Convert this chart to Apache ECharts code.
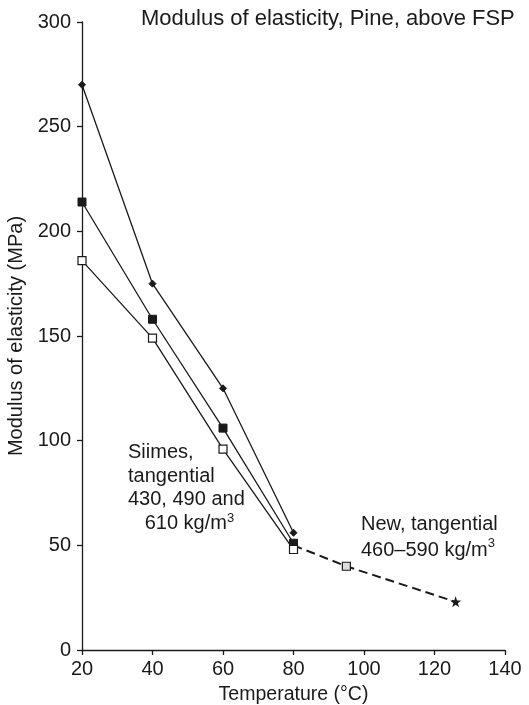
<!DOCTYPE html>
<html>
<head>
<meta charset="utf-8">
<script src="https://cdn.jsdelivr.net/npm/echarts@6/dist/echarts.min.js"></script>
<style>
  html, body { margin: 0; padding: 0; background: #fff; }
  #chart { width: 529px; height: 705px; }
</style>
</head>
<body>
<div id="chart"></div>
<script>
// temperatures (°C) for the Siimes measurements
const siimesTemps = [20, 40, 60, 80]
// three densities: 430, 490 and 610 kg/m3
const siimesHigh = [270, 175, 125, 56]   // diamond
const siimesMid = [214, 158, 106, 51]    // filled square
const siimesLow = [186, 149, 96, 48]     // open square
// new tangential data, 460–590 kg/m3 (dashed)
const newTemps = [80, 95, 126]
const newValues = [50, 40, 23]

const xTicks = [20, 40, 60, 80, 100, 120, 140]
const yTicks = [0, 50, 100, 150, 200, 250, 300]

const FONT = 'Liberation Sans, Arial, sans-serif'
const INK = '#1a1a1a'
const STAR = 'path://M0,-10 L2.4,-3.2 L9.5,-3.1 L3.8,1.2 L5.9,8.1 L0,4 L-5.9,8.1 L-3.8,1.2 L-9.5,-3.1 L-2.4,-3.2 Z'

const pairs = (xs, ys) => xs.map((x, i) => [x, ys[i]])

const chart = echarts.init(document.getElementById('chart'))

const lineBase = {
  type: 'line',
  lineStyle: { color: INK, width: 1.3 },
  itemStyle: { color: INK, borderColor: INK, borderWidth: 1 },
  emphasis: { disabled: true },
  animation: false,
  z: 3,
}

chart.setOption({
  backgroundColor: '#fff',
  textStyle: { fontFamily: FONT },
  grid: { left: 82, right: 24, top: 22, bottom: 55, outerBoundsMode: 'none', containLabel: false },
  xAxis: {
    type: 'value',
    min: xTicks[0],
    max: xTicks[xTicks.length - 1],
    interval: 20,
    name: 'Temperature (°C)',
    nameLocation: 'middle',
    nameGap: 35,
    nameTextStyle: { color: INK, fontSize: 19.5, fontFamily: FONT },
    axisLine: { lineStyle: { color: INK, width: 1.3 } },
    axisTick: { show: true, length: 5, lineStyle: { color: INK, width: 1.3 } },
    axisLabel: { color: INK, fontSize: 20, margin: 9, fontFamily: FONT },
    splitLine: { show: false },
  },
  yAxis: {
    type: 'value',
    min: yTicks[0],
    max: yTicks[yTicks.length - 1],
    interval: 50,
    name: 'Modulus of elasticity (MPa)',
    nameLocation: 'middle',
    nameGap: 50,
    nameTextStyle: { color: INK, fontSize: 20, fontFamily: FONT },
    axisLine: { show: true, lineStyle: { color: INK, width: 1.3 } },
    axisTick: { show: true, length: 5, lineStyle: { color: INK, width: 1.3 } },
    axisLabel: { color: INK, fontSize: 20, margin: 11, fontFamily: FONT },
    splitLine: { show: false },
  },
  series: [
    {
      ...lineBase,
      name: 'Siimes 610',
      data: pairs(siimesTemps, siimesHigh),
      symbol: 'diamond',
      symbolSize: 7,
    },
    {
      ...lineBase,
      name: 'Siimes 490',
      data: pairs(siimesTemps, siimesMid),
      symbol: 'rect',
      symbolSize: 8,
    },
    {
      ...lineBase,
      name: 'Siimes 430',
      data: pairs(siimesTemps, siimesLow),
      symbol: 'rect',
      symbolSize: 8,
      itemStyle: { color: '#fff', borderColor: INK, borderWidth: 1.2 },
    },
    {
      ...lineBase,
      name: 'New',
      data: pairs(newTemps, newValues).map((p, i) => ({
        value: p,
        symbol: i === 0 ? 'none' : i === newTemps.length - 1 ? STAR : 'rect',
        symbolSize: i === newTemps.length - 1 ? 11 : 8,
        itemStyle: i === newTemps.length - 1
          ? { color: INK, borderWidth: 0 }
          : { color: '#ddd', borderColor: INK, borderWidth: 1.2 },
      })),
      showAllSymbol: true,
      lineStyle: { color: INK, width: 2, type: [9, 5] },
      z: 2,
    },
  ],
  graphic: [
    {
      type: 'text',
      left: 141,
      top: 8,
      style: { text: 'Modulus of elasticity, Pine, above FSP', fill: INK, font: '22px ' + FONT },
    },
    {
      type: 'text',
      left: 128,
      top: 441,
      style: {
        text: 'Siimes,\ntangential\n430, 490 and\n   610 kg/m{sup|3}',
        fill: INK,
        font: '20px ' + FONT,
        lineHeight: 23.5,
        rich: { sup: { fontSize: 13, verticalAlign: 'top', lineHeight: 14, fill: INK } },
      },
    },
    {
      type: 'text',
      left: 361,
      top: 511,
      style: {
        text: 'New, tangential\n460–590 kg/m{sup|3}',
        fill: INK,
        font: '20px ' + FONT,
        lineHeight: 26,
        rich: { sup: { fontSize: 13, verticalAlign: 'top', lineHeight: 16, fill: INK } },
      },
    },
  ],
})
</script>
</body>
</html>
